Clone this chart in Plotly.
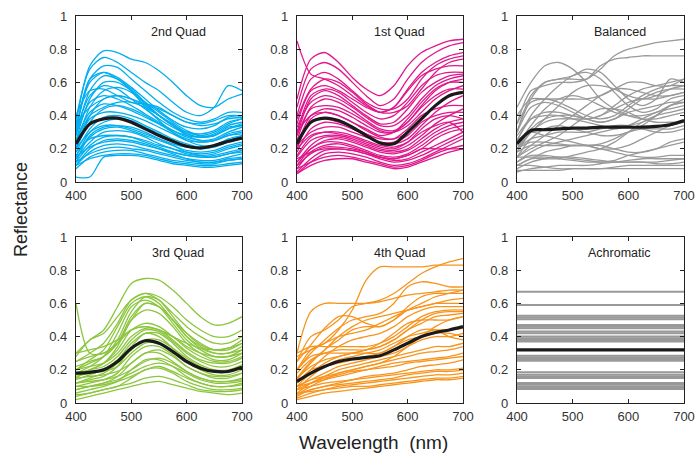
import plotly.graph_objects as go

wavelengths = [400, 425, 450, 475, 500, 525, 550, 575, 600, 625, 650, 675, 700]

quad2_curves = [
    [0.35,0.70,0.79,0.78,0.74,0.72,0.67,0.60,0.52,0.46,0.45,0.50,0.53],
    [0.38,0.68,0.75,0.72,0.66,0.60,0.55,0.48,0.42,0.40,0.45,0.58,0.55],
    [0.30,0.62,0.70,0.69,0.62,0.55,0.48,0.42,0.38,0.36,0.38,0.42,0.42],
    [0.33,0.60,0.66,0.63,0.57,0.50,0.43,0.37,0.33,0.32,0.34,0.39,0.40],
    [0.28,0.55,0.64,0.62,0.56,0.48,0.40,0.34,0.30,0.29,0.31,0.36,0.38],
    [0.25,0.50,0.60,0.60,0.55,0.48,0.42,0.36,0.31,0.28,0.28,0.32,0.35],
    [0.30,0.52,0.58,0.56,0.50,0.44,0.38,0.33,0.29,0.27,0.29,0.34,0.36],
    [0.22,0.45,0.55,0.57,0.54,0.47,0.40,0.34,0.29,0.27,0.28,0.33,0.34],
    [0.28,0.48,0.52,0.50,0.46,0.41,0.36,0.31,0.27,0.25,0.26,0.30,0.33],
    [0.20,0.40,0.50,0.52,0.50,0.46,0.40,0.34,0.28,0.25,0.25,0.28,0.30],
    [0.25,0.42,0.47,0.46,0.43,0.39,0.35,0.31,0.28,0.27,0.28,0.32,0.34],
    [0.20,0.36,0.44,0.46,0.44,0.40,0.35,0.30,0.26,0.24,0.25,0.29,0.31],
    [0.22,0.38,0.42,0.42,0.40,0.37,0.33,0.29,0.25,0.24,0.25,0.28,0.29],
    [0.18,0.32,0.39,0.40,0.38,0.34,0.30,0.26,0.23,0.21,0.22,0.25,0.27],
    [0.15,0.30,0.36,0.38,0.37,0.33,0.29,0.25,0.22,0.20,0.21,0.24,0.26],
    [0.20,0.30,0.34,0.34,0.32,0.29,0.26,0.23,0.21,0.20,0.22,0.26,0.28],
    [0.16,0.27,0.32,0.33,0.31,0.28,0.25,0.22,0.19,0.18,0.19,0.22,0.24],
    [0.14,0.24,0.30,0.31,0.30,0.27,0.23,0.20,0.17,0.16,0.17,0.20,0.22],
    [0.18,0.26,0.28,0.28,0.27,0.25,0.22,0.20,0.18,0.17,0.18,0.21,0.23],
    [0.12,0.22,0.27,0.28,0.27,0.24,0.21,0.18,0.16,0.15,0.15,0.17,0.19],
    [0.15,0.21,0.24,0.25,0.24,0.22,0.20,0.18,0.16,0.15,0.16,0.18,0.20],
    [0.10,0.18,0.22,0.23,0.22,0.20,0.18,0.16,0.14,0.13,0.13,0.15,0.17],
    [0.12,0.17,0.20,0.21,0.20,0.19,0.17,0.15,0.13,0.12,0.12,0.14,0.15],
    [0.08,0.15,0.18,0.19,0.19,0.17,0.15,0.13,0.12,0.11,0.11,0.13,0.14],
    [0.10,0.14,0.16,0.17,0.17,0.16,0.14,0.12,0.11,0.10,0.10,0.11,0.12],
    [0.03,0.03,0.15,0.16,0.16,0.15,0.13,0.11,0.10,0.09,0.09,0.10,0.11],
    [0.40,0.55,0.56,0.52,0.48,0.47,0.45,0.40,0.36,0.35,0.37,0.40,0.40],
    [0.35,0.45,0.50,0.52,0.50,0.47,0.44,0.40,0.36,0.34,0.35,0.38,0.39],
    [0.30,0.62,0.66,0.62,0.55,0.45,0.37,0.30,0.25,0.22,0.22,0.25,0.28],
    [0.24,0.40,0.45,0.48,0.48,0.45,0.40,0.35,0.30,0.28,0.30,0.35,0.38],
    [0.12,0.28,0.33,0.34,0.33,0.30,0.26,0.22,0.18,0.16,0.15,0.17,0.18],
    [0.10,0.20,0.25,0.26,0.25,0.23,0.20,0.17,0.14,0.12,0.12,0.13,0.14],
]
quad2_mean = [0.23,0.35,0.38,0.385,0.36,0.32,0.28,0.245,0.215,0.205,0.22,0.245,0.265]

quad1_curves = [
    [0.50,0.74,0.78,0.72,0.63,0.56,0.52,0.58,0.70,0.78,0.82,0.85,0.86],
    [0.45,0.68,0.72,0.68,0.60,0.52,0.46,0.50,0.62,0.72,0.78,0.82,0.84],
    [0.85,0.65,0.62,0.58,0.52,0.46,0.42,0.45,0.56,0.66,0.72,0.76,0.78],
    [0.40,0.62,0.66,0.62,0.55,0.48,0.44,0.44,0.50,0.62,0.70,0.74,0.76],
    [0.35,0.55,0.58,0.55,0.50,0.45,0.42,0.45,0.55,0.64,0.68,0.70,0.70],
    [0.30,0.52,0.56,0.54,0.48,0.42,0.38,0.40,0.48,0.58,0.64,0.66,0.66],
    [0.28,0.50,0.55,0.52,0.46,0.40,0.35,0.36,0.44,0.54,0.60,0.64,0.65],
    [0.33,0.48,0.52,0.50,0.45,0.39,0.34,0.34,0.40,0.50,0.58,0.62,0.64],
    [0.25,0.45,0.50,0.48,0.43,0.37,0.32,0.31,0.36,0.46,0.55,0.60,0.62],
    [0.28,0.44,0.46,0.45,0.41,0.36,0.31,0.30,0.34,0.42,0.50,0.55,0.58],
    [0.22,0.40,0.44,0.43,0.39,0.34,0.30,0.30,0.36,0.45,0.52,0.56,0.56],
    [0.20,0.38,0.42,0.40,0.36,0.31,0.27,0.26,0.30,0.38,0.46,0.52,0.54],
    [0.25,0.36,0.38,0.36,0.33,0.29,0.26,0.26,0.32,0.40,0.44,0.46,0.46],
    [0.18,0.32,0.36,0.35,0.32,0.28,0.24,0.23,0.26,0.34,0.42,0.48,0.52],
    [0.22,0.30,0.33,0.33,0.30,0.27,0.24,0.24,0.28,0.36,0.40,0.42,0.42],
    [0.15,0.25,0.28,0.28,0.26,0.23,0.20,0.19,0.22,0.28,0.35,0.40,0.44],
    [0.12,0.22,0.27,0.27,0.25,0.22,0.19,0.18,0.20,0.26,0.32,0.36,0.38],
    [0.10,0.20,0.25,0.26,0.24,0.21,0.18,0.17,0.19,0.24,0.30,0.34,0.36],
    [0.12,0.20,0.24,0.24,0.22,0.19,0.16,0.15,0.17,0.22,0.28,0.32,0.34],
    [0.08,0.18,0.22,0.23,0.21,0.18,0.15,0.14,0.16,0.20,0.26,0.30,0.32],
    [0.10,0.17,0.21,0.21,0.20,0.18,0.15,0.13,0.14,0.18,0.22,0.26,0.30],
    [0.06,0.14,0.19,0.20,0.19,0.17,0.14,0.12,0.13,0.16,0.20,0.24,0.28],
    [0.05,0.12,0.17,0.18,0.17,0.15,0.12,0.10,0.11,0.14,0.18,0.22,0.26],
    [0.08,0.12,0.15,0.16,0.15,0.13,0.11,0.09,0.10,0.13,0.17,0.20,0.22],
    [0.05,0.10,0.13,0.14,0.14,0.12,0.10,0.08,0.09,0.12,0.15,0.18,0.20],
    [0.14,0.18,0.20,0.20,0.19,0.17,0.15,0.14,0.16,0.20,0.20,0.20,0.20],
    [0.30,0.40,0.42,0.40,0.36,0.32,0.28,0.30,0.38,0.48,0.56,0.60,0.60],
    [0.38,0.56,0.62,0.60,0.54,0.47,0.42,0.42,0.46,0.56,0.66,0.72,0.74],
    [0.20,0.28,0.30,0.29,0.27,0.24,0.21,0.20,0.24,0.32,0.38,0.40,0.38],
    [0.16,0.27,0.30,0.30,0.28,0.25,0.22,0.21,0.24,0.30,0.34,0.36,0.30],
]
quad1_mean = [0.23,0.36,0.385,0.37,0.33,0.28,0.235,0.23,0.30,0.38,0.46,0.52,0.54]

balanced_curves = [
    [0.30,0.52,0.60,0.62,0.62,0.62,0.68,0.76,0.80,0.82,0.84,0.85,0.86],
    [0.35,0.55,0.58,0.60,0.60,0.62,0.70,0.74,0.75,0.76,0.76,0.76,0.76],
    [0.45,0.60,0.70,0.72,0.68,0.60,0.50,0.44,0.40,0.38,0.38,0.40,0.42],
    [0.30,0.50,0.60,0.62,0.64,0.68,0.66,0.58,0.50,0.46,0.50,0.62,0.60],
    [0.25,0.40,0.50,0.58,0.64,0.66,0.62,0.54,0.46,0.42,0.44,0.50,0.52],
    [0.40,0.50,0.50,0.50,0.50,0.50,0.52,0.56,0.60,0.60,0.58,0.58,0.62],
    [0.20,0.30,0.38,0.46,0.54,0.58,0.58,0.56,0.52,0.50,0.52,0.56,0.58],
    [0.35,0.48,0.50,0.48,0.44,0.40,0.38,0.40,0.46,0.52,0.56,0.58,0.58],
    [0.30,0.45,0.48,0.46,0.42,0.38,0.36,0.38,0.44,0.50,0.54,0.56,0.56],
    [0.15,0.22,0.28,0.34,0.40,0.46,0.52,0.56,0.56,0.54,0.52,0.52,0.54],
    [0.25,0.38,0.42,0.42,0.40,0.38,0.40,0.44,0.48,0.50,0.50,0.52,0.54],
    [0.20,0.32,0.38,0.40,0.40,0.38,0.36,0.38,0.42,0.44,0.46,0.48,0.48],
    [0.28,0.38,0.40,0.40,0.38,0.36,0.34,0.32,0.34,0.38,0.42,0.44,0.46],
    [0.15,0.20,0.24,0.28,0.34,0.40,0.44,0.44,0.42,0.38,0.36,0.36,0.36],
    [0.20,0.26,0.28,0.30,0.30,0.30,0.32,0.34,0.34,0.32,0.30,0.30,0.32],
    [0.12,0.18,0.22,0.24,0.26,0.28,0.30,0.32,0.34,0.36,0.40,0.46,0.50],
    [0.25,0.30,0.28,0.26,0.24,0.22,0.20,0.20,0.22,0.26,0.30,0.34,0.36],
    [0.18,0.22,0.22,0.22,0.22,0.22,0.22,0.20,0.18,0.18,0.20,0.24,0.26],
    [0.10,0.14,0.18,0.20,0.22,0.22,0.20,0.18,0.16,0.15,0.15,0.16,0.16],
    [0.12,0.16,0.16,0.15,0.14,0.13,0.12,0.13,0.16,0.18,0.20,0.22,0.24],
    [0.08,0.12,0.14,0.15,0.15,0.14,0.13,0.12,0.12,0.12,0.12,0.13,0.14],
    [0.15,0.15,0.15,0.14,0.13,0.12,0.12,0.12,0.13,0.14,0.14,0.14,0.14],
    [0.06,0.08,0.09,0.10,0.10,0.10,0.11,0.12,0.12,0.12,0.11,0.11,0.12],
    [0.10,0.10,0.09,0.08,0.08,0.08,0.08,0.09,0.10,0.10,0.10,0.10,0.10],
    [0.07,0.07,0.07,0.07,0.08,0.08,0.08,0.08,0.08,0.08,0.08,0.08,0.08],
    [0.20,0.24,0.24,0.23,0.22,0.22,0.23,0.26,0.30,0.32,0.32,0.32,0.34],
    [0.15,0.26,0.32,0.34,0.32,0.30,0.28,0.28,0.30,0.34,0.40,0.46,0.48],
    [0.22,0.34,0.44,0.50,0.52,0.50,0.46,0.42,0.40,0.40,0.42,0.46,0.48],
    [0.18,0.30,0.36,0.38,0.38,0.38,0.40,0.46,0.52,0.56,0.58,0.60,0.62],
    [0.10,0.14,0.14,0.14,0.16,0.18,0.20,0.24,0.30,0.36,0.40,0.42,0.44],
]
balanced_mean = [0.23,0.31,0.315,0.32,0.325,0.325,0.33,0.33,0.33,0.33,0.335,0.345,0.37]

quad3_curves = [
    [0.30,0.38,0.44,0.58,0.72,0.75,0.74,0.68,0.60,0.52,0.47,0.48,0.52],
    [0.28,0.38,0.42,0.52,0.62,0.66,0.64,0.58,0.50,0.44,0.40,0.40,0.44],
    [0.25,0.30,0.36,0.48,0.62,0.66,0.62,0.54,0.46,0.40,0.36,0.36,0.40],
    [0.20,0.26,0.32,0.46,0.60,0.64,0.60,0.50,0.42,0.36,0.32,0.32,0.36],
    [0.18,0.22,0.28,0.42,0.58,0.62,0.58,0.48,0.38,0.32,0.28,0.28,0.32],
    [0.60,0.30,0.30,0.36,0.50,0.60,0.58,0.50,0.40,0.33,0.30,0.30,0.34],
    [0.15,0.20,0.24,0.34,0.50,0.56,0.54,0.46,0.36,0.30,0.26,0.26,0.30],
    [0.25,0.28,0.30,0.36,0.44,0.46,0.44,0.40,0.34,0.30,0.28,0.28,0.30],
    [0.20,0.22,0.24,0.30,0.40,0.45,0.44,0.38,0.31,0.26,0.24,0.24,0.27],
    [0.18,0.20,0.22,0.28,0.38,0.44,0.43,0.37,0.30,0.25,0.22,0.22,0.25],
    [0.14,0.17,0.20,0.26,0.36,0.42,0.42,0.36,0.28,0.23,0.20,0.20,0.23],
    [0.12,0.14,0.16,0.22,0.34,0.42,0.40,0.33,0.25,0.20,0.17,0.17,0.20],
    [0.16,0.18,0.19,0.22,0.30,0.36,0.36,0.31,0.25,0.21,0.19,0.19,0.22],
    [0.10,0.12,0.14,0.18,0.28,0.34,0.34,0.29,0.22,0.18,0.15,0.15,0.18],
    [0.15,0.16,0.17,0.19,0.24,0.30,0.32,0.28,0.22,0.18,0.16,0.16,0.18],
    [0.08,0.10,0.12,0.16,0.24,0.30,0.30,0.25,0.19,0.15,0.13,0.13,0.15],
    [0.12,0.13,0.14,0.16,0.20,0.25,0.27,0.24,0.19,0.15,0.13,0.13,0.14],
    [0.06,0.08,0.10,0.13,0.20,0.26,0.26,0.22,0.16,0.12,0.10,0.10,0.12],
    [0.10,0.10,0.11,0.13,0.16,0.20,0.22,0.19,0.15,0.12,0.10,0.10,0.11],
    [0.04,0.06,0.08,0.10,0.15,0.20,0.21,0.18,0.13,0.10,0.08,0.08,0.09],
    [0.05,0.06,0.08,0.10,0.12,0.15,0.16,0.14,0.11,0.08,0.07,0.07,0.08],
    [0.02,0.04,0.06,0.08,0.10,0.12,0.13,0.11,0.09,0.07,0.06,0.05,0.06],
    [0.22,0.25,0.28,0.36,0.52,0.60,0.58,0.50,0.40,0.34,0.30,0.30,0.32],
    [0.20,0.24,0.28,0.38,0.55,0.64,0.62,0.52,0.42,0.35,0.32,0.33,0.38],
    [0.17,0.20,0.24,0.32,0.44,0.48,0.46,0.40,0.33,0.28,0.25,0.25,0.28],
    [0.12,0.15,0.18,0.24,0.32,0.38,0.38,0.33,0.27,0.22,0.19,0.19,0.22],
    [0.08,0.10,0.12,0.14,0.18,0.22,0.24,0.22,0.18,0.14,0.12,0.12,0.13],
    [0.30,0.32,0.34,0.38,0.44,0.46,0.44,0.40,0.36,0.33,0.32,0.33,0.36],
]
quad3_mean = [0.18,0.185,0.20,0.25,0.33,0.375,0.36,0.31,0.25,0.21,0.19,0.19,0.215]

quad4_curves = [
    [0.28,0.32,0.36,0.44,0.56,0.74,0.82,0.82,0.82,0.82,0.83,0.83,0.83],
    [0.30,0.55,0.60,0.60,0.60,0.60,0.61,0.63,0.65,0.66,0.67,0.68,0.68],
    [0.25,0.40,0.44,0.50,0.58,0.60,0.62,0.66,0.72,0.78,0.82,0.85,0.87],
    [0.20,0.30,0.38,0.45,0.50,0.52,0.54,0.60,0.70,0.73,0.72,0.70,0.70],
    [0.25,0.35,0.45,0.52,0.52,0.48,0.46,0.50,0.58,0.64,0.66,0.66,0.66],
    [0.15,0.25,0.32,0.40,0.46,0.50,0.52,0.54,0.56,0.58,0.60,0.62,0.63],
    [0.20,0.32,0.36,0.40,0.42,0.44,0.48,0.52,0.56,0.58,0.60,0.60,0.60],
    [0.12,0.20,0.28,0.34,0.38,0.40,0.42,0.46,0.52,0.56,0.58,0.58,0.58],
    [0.30,0.34,0.34,0.34,0.34,0.34,0.36,0.40,0.46,0.52,0.55,0.56,0.56],
    [0.18,0.26,0.30,0.32,0.32,0.32,0.34,0.38,0.44,0.50,0.54,0.55,0.55],
    [0.10,0.18,0.24,0.28,0.30,0.32,0.34,0.38,0.44,0.48,0.52,0.53,0.54],
    [0.15,0.22,0.26,0.28,0.30,0.32,0.36,0.42,0.48,0.50,0.50,0.50,0.52],
    [0.08,0.16,0.22,0.26,0.28,0.30,0.32,0.36,0.40,0.42,0.44,0.44,0.45],
    [0.12,0.20,0.22,0.24,0.26,0.28,0.30,0.34,0.38,0.40,0.42,0.42,0.40],
    [0.10,0.14,0.18,0.22,0.24,0.26,0.28,0.30,0.34,0.38,0.40,0.40,0.42],
    [0.06,0.12,0.16,0.20,0.22,0.24,0.26,0.28,0.30,0.32,0.34,0.34,0.36],
    [0.08,0.12,0.14,0.18,0.20,0.22,0.24,0.26,0.28,0.30,0.31,0.32,0.34],
    [0.05,0.10,0.14,0.16,0.18,0.20,0.22,0.24,0.25,0.26,0.27,0.28,0.30],
    [0.10,0.12,0.15,0.17,0.19,0.20,0.21,0.22,0.24,0.25,0.26,0.27,0.28],
    [0.04,0.08,0.10,0.12,0.14,0.16,0.17,0.18,0.20,0.22,0.23,0.24,0.26],
    [0.08,0.10,0.12,0.13,0.14,0.15,0.16,0.17,0.18,0.19,0.20,0.20,0.21],
    [0.05,0.08,0.10,0.11,0.12,0.13,0.14,0.15,0.17,0.18,0.19,0.19,0.20],
    [0.03,0.06,0.08,0.10,0.11,0.12,0.13,0.14,0.15,0.16,0.17,0.17,0.18],
    [0.06,0.07,0.08,0.09,0.10,0.10,0.11,0.12,0.13,0.14,0.15,0.15,0.16],
    [0.02,0.04,0.06,0.07,0.08,0.09,0.10,0.11,0.12,0.13,0.14,0.14,0.15],
    [0.14,0.24,0.32,0.38,0.44,0.46,0.46,0.50,0.56,0.60,0.64,0.66,0.68],
    [0.20,0.28,0.30,0.30,0.30,0.30,0.30,0.34,0.40,0.44,0.44,0.40,0.38],
    [0.10,0.14,0.16,0.18,0.20,0.22,0.24,0.28,0.34,0.40,0.46,0.50,0.52],
]
quad4_mean = [0.13,0.18,0.22,0.25,0.265,0.275,0.285,0.32,0.36,0.40,0.425,0.44,0.46]

achromatic_levels = [0.67, 0.59, 0.525, 0.515, 0.505, 0.47, 0.46, 0.45, 0.43, 0.42,
                     0.40, 0.39, 0.38, 0.37, 0.285, 0.275, 0.265, 0.255, 0.185,
                     0.17, 0.16, 0.15, 0.12, 0.11, 0.10, 0.09, 0.085]
achromatic_mean = 0.32
achromatic_x = [400, 700]

panel_titles = ["2nd Quad", "1st Quad", "Balanced", "3rd Quad", "4th Quad", "Achromatic"]
panel_colors = ["#00AEEF", "#E0168C", "#999999", "#8CC63F", "#F7941D", "#999999"]
x_ticks = [400, 500, 600, 700]
y_ticks = [0, 0.2, 0.4, 0.6, 0.8, 1]
y_ticklabels = ["0", "0.2", "0.4", "0.6", "0.8", "1"]

fig = go.Figure()

xdomains = [[76/696, 242/696], [297/696, 463/696], [517/696, 684/696]]
ydomains = [[(456-182)/456, (456-16)/456], [(456-403)/456, (456-237)/456]]

panels = [
    (quad2_curves, quad2_mean),
    (quad1_curves, quad1_mean),
    (balanced_curves, balanced_mean),
    (quad3_curves, quad3_mean),
    (quad4_curves, quad4_mean),
]

FONT = "Liberation Sans, Arial"

for i in range(6):
    ax = "" if i == 0 else str(i + 1)
    xa, ya = "x" + ax, "y" + ax
    color = panel_colors[i]
    if i < 5:
        curves, mean = panels[i]
        for c in curves:
            fig.add_trace(go.Scatter(x=wavelengths, y=c, mode="lines", xaxis=xa, yaxis=ya,
                                     line=dict(color=color, width=1.3, shape="spline", smoothing=0.8),
                                     showlegend=False, hoverinfo="skip"))
        fig.add_trace(go.Scatter(x=wavelengths, y=mean, mode="lines", xaxis=xa, yaxis=ya,
                                 line=dict(color="#1a1a1a", width=3.2, shape="spline", smoothing=0.8),
                                 showlegend=False, hoverinfo="skip"))
    else:
        for lv in achromatic_levels:
            fig.add_trace(go.Scatter(x=achromatic_x, y=[lv, lv], mode="lines", xaxis=xa, yaxis=ya,
                                     line=dict(color=color, width=2),
                                     showlegend=False, hoverinfo="skip"))
        fig.add_trace(go.Scatter(x=achromatic_x, y=[achromatic_mean, achromatic_mean], mode="lines",
                                 xaxis=xa, yaxis=ya, line=dict(color="#1a1a1a", width=3.2),
                                 showlegend=False, hoverinfo="skip"))
    row, col = divmod(i, 3)
    axis_style = dict(showline=True, linecolor="#222", linewidth=1.2, mirror="ticks",
                      ticks="inside", ticklen=4, tickcolor="#222", showgrid=False, zeroline=False,
                      automargin=False,
                      tickfont=dict(family=FONT, size=13, color="#333"))
    fig.layout["xaxis" + ax] = dict(domain=xdomains[col], anchor=ya, range=[400, 700],
                                    tickvals=x_ticks, ticklabelstandoff=1, **axis_style)
    fig.layout["yaxis" + ax] = dict(domain=ydomains[row], anchor=xa, range=[0, 1],
                                    tickvals=y_ticks, ticktext=y_ticklabels,
                                    ticklabelstandoff=5, **axis_style)
    fig.add_annotation(x=585, y=0.905, xref=xa, yref=ya, text=panel_titles[i], showarrow=False,
                       xanchor="center", yanchor="middle",
                       font=dict(family=FONT, size=12.5, color="#222"))

fig.add_annotation(x=373/696, y=1 - 442/456, xref="paper", yref="paper", text="Wavelength  (nm)",
                   xanchor="center", yanchor="middle",
                   showarrow=False, font=dict(family=FONT, size=19, color="#222"))
fig.add_annotation(x=21/696, y=1 - 210/456, xref="paper", yref="paper", text="Reflectance",
                   xanchor="center", yanchor="middle",
                   textangle=-90, showarrow=False,
                   font=dict(family=FONT, size=18, color="#222"))

fig.update_layout(width=696, height=456, margin=dict(l=0, r=0, t=0, b=0, autoexpand=False),
                  paper_bgcolor="white", plot_bgcolor="white")

fig.write_html("out.html")
